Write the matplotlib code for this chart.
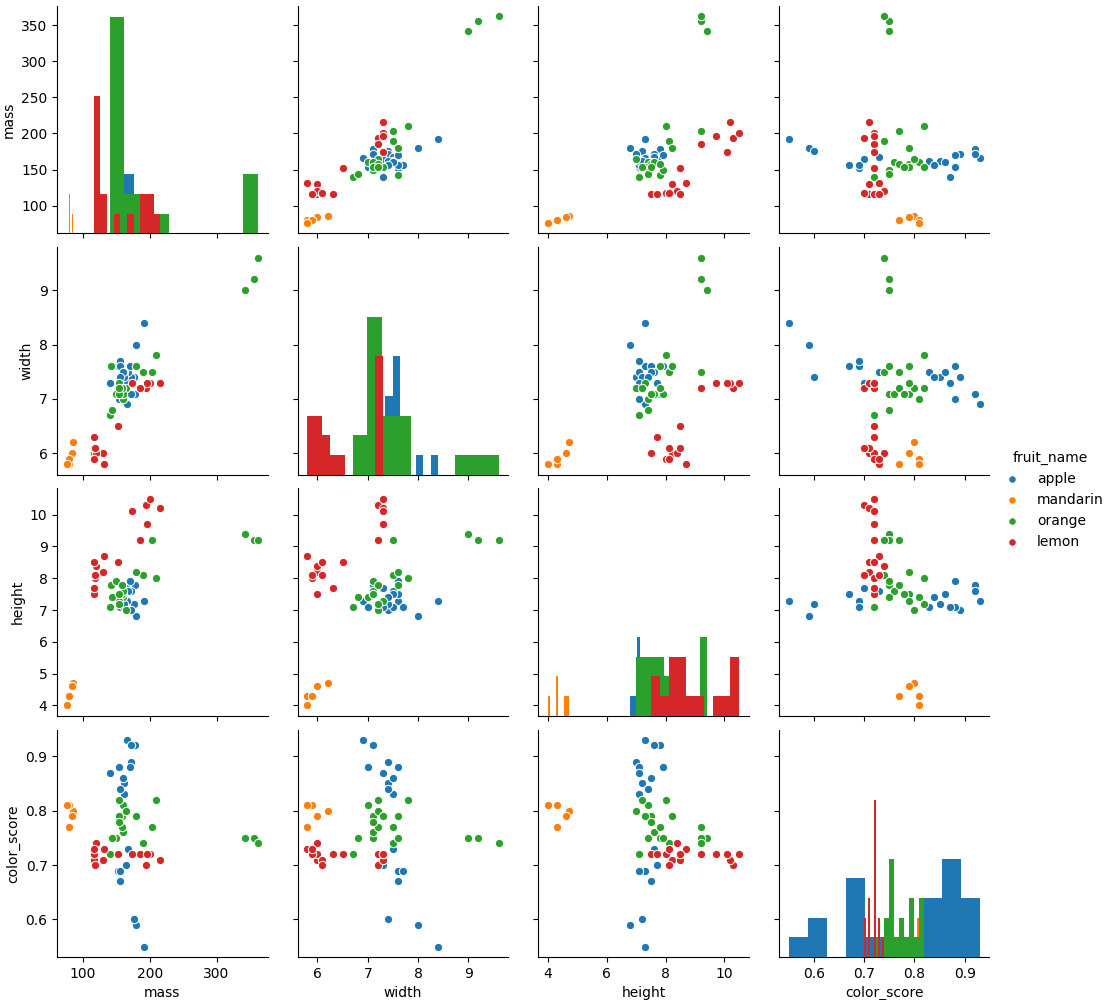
import matplotlib
matplotlib.use("Agg")
import matplotlib.pyplot as plt
import numpy as np

# fruit data (59 rows)
fruit_name = (["apple"] * 3 + ["mandarin"] * 5 + ["apple"] * 16 +
              ["orange"] * 19 + ["lemon"] * 16)
mass = [192, 180, 176, 86, 84, 80, 80, 76, 178, 172, 166, 172, 154, 164, 152,
        156, 156, 168, 162, 162, 160, 156, 140, 170, 342, 356, 362, 204, 140,
        160, 158, 210, 164, 190, 142, 150, 160, 154, 158, 144, 154, 180, 154,
        194, 200, 186, 216, 196, 174, 132, 130, 116, 118, 120, 116, 116, 116,
        152, 118]
width = [8.4, 8.0, 7.4, 6.2, 6.0, 5.8, 5.9, 5.8, 7.1, 7.4, 6.9, 7.1, 7.0, 7.3,
         7.6, 7.7, 7.6, 7.5, 7.5, 7.4, 7.5, 7.4, 7.3, 7.6, 9.0, 9.2, 9.6, 7.5,
         6.7, 7.0, 7.1, 7.8, 7.2, 7.5, 7.6, 7.1, 7.1, 7.3, 7.2, 6.8, 7.1, 7.6,
         7.2, 7.2, 7.3, 7.2, 7.3, 7.3, 7.3, 5.8, 6.0, 6.0, 5.9, 6.0, 6.1, 6.3,
         5.9, 6.5, 6.1]
height = [7.3, 6.8, 7.2, 4.7, 4.6, 4.3, 4.3, 4.0, 7.8, 7.0, 7.3, 7.6, 7.1, 7.7,
          7.3, 7.1, 7.5, 7.6, 7.1, 7.2, 7.5, 7.4, 7.1, 7.9, 9.4, 9.2, 9.2, 9.2,
          7.1, 7.4, 7.5, 8.0, 7.0, 8.1, 7.8, 7.9, 7.6, 7.3, 7.8, 7.4, 7.5, 8.2,
          7.2, 10.3, 10.5, 9.2, 10.2, 9.7, 10.1, 8.7, 8.2, 7.5, 8.0, 8.4, 8.5,
          7.7, 8.1, 8.5, 8.1]
color_score = [0.55, 0.59, 0.60, 0.80, 0.79, 0.77, 0.81, 0.81, 0.92, 0.89,
               0.93, 0.92, 0.88, 0.70, 0.69, 0.69, 0.67, 0.73, 0.83, 0.85,
               0.86, 0.84, 0.87, 0.88, 0.75, 0.75, 0.74, 0.77, 0.72, 0.81,
               0.79, 0.82, 0.80, 0.74, 0.75, 0.75, 0.76, 0.79, 0.77, 0.75,
               0.78, 0.79, 0.82, 0.70, 0.72, 0.72, 0.71, 0.72, 0.72, 0.73,
               0.71, 0.72, 0.72, 0.74, 0.71, 0.72, 0.73, 0.72, 0.70]

variables = ["mass", "width", "height", "color_score"]
hue_order = ["apple", "mandarin", "orange", "lemon"]
palette = ["#1f77b4", "#ff7f0e", "#2ca02c", "#d62728"]

data = {"mass": np.array(mass), "width": np.array(width),
        "height": np.array(height), "color_score": np.array(color_score)}
names = np.array(fruit_name)

fig, axes = plt.subplots(4, 4, figsize=(11.16, 10), dpi=100,
                         sharex="col", sharey="row")
fig.subplots_adjust(left=0.0513, right=0.8865, bottom=0.043, top=0.994,
                    wspace=0.144, hspace=0.061)

handles = []
first_twin = None
for i, yv in enumerate(variables):
    for j, xv in enumerate(variables):
        ax = axes[i, j]
        ax.spines["top"].set_visible(False)
        ax.spines["right"].set_visible(False)
        if i == j:
            # histogram on a hidden twin axis; all diagonal twins share y
            tax = ax.twinx()
            if first_twin is None:
                first_twin = tax
            else:
                tax.sharey(first_twin)
            tax.set_axis_off()
            for name, c in zip(hue_order, palette):
                tax.hist(data[xv][names == name], bins=10, color=c)
        else:
            for name, c in zip(hue_order, palette):
                sc = ax.scatter(data[xv][names == name], data[yv][names == name],
                                s=36, color=c, edgecolor="white", linewidth=0.75,
                                label=name)
                if i == 1 and j == 0:
                    handles.append(sc)
        if i == 3:
            ax.set_xlabel(xv)
        if j == 0:
            ax.set_ylabel(yv)

leg = fig.legend(handles, hue_order, title="fruit_name", loc="center left",
                 bbox_to_anchor=(0.883, 0.5), frameon=False)
for h in leg.legend_handles:
    h.set_sizes([30])

fig.savefig("out.png", dpi=100)
